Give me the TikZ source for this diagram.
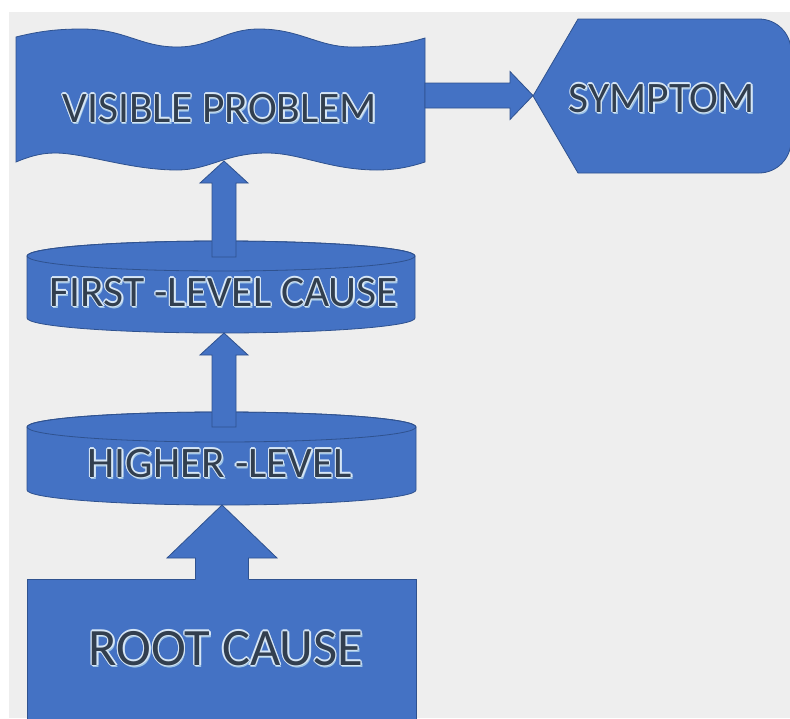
\documentclass[tikz,border=0pt]{standalone}
\usepackage{fontspec}
\setmainfont{Carlito}
\usetikzlibrary{calc}
\definecolor{bgc}{HTML}{EEEEEE}
\definecolor{fillc}{HTML}{4472C4}
\definecolor{edgec}{HTML}{2F528F}
\definecolor{textc}{HTML}{323F4F}
\definecolor{glowc}{HTML}{D6E6F6}
\definecolor{glowb}{HTML}{9DC3E6}
\newcommand\gcopy[4]{\rlap{\kern#1\raisebox{#2}{\color{#3}#4}}}
\newcommand\gtxt[1]{%
\gcopy{1.4pt}{-2.2pt}{glowb}{#1}\gcopy{0.6pt}{-2.4pt}{glowb}{#1}%
\gcopy{1.3pt}{0pt}{glowc}{#1}\gcopy{-1.3pt}{0pt}{glowc}{#1}%
\gcopy{0pt}{1.3pt}{glowc}{#1}\gcopy{0pt}{-1.3pt}{glowc}{#1}%
\gcopy{0.9pt}{0.9pt}{glowc}{#1}\gcopy{-0.9pt}{0.9pt}{glowc}{#1}%
\gcopy{0.9pt}{-0.9pt}{glowc}{#1}\gcopy{-0.9pt}{-0.9pt}{glowc}{#1}%
{\color{textc}#1}}
\newcommand\vupar[5]{%
\filldraw[blk] let \p1=(#1), \p2=(#2) in
 (\x1-#3,\y1) -- (\x1-#3,\y2-#5) -- (\x1-#4,\y2-#5) -- (\x2,\y2)
 -- (\x1+#4,\y2-#5) -- (\x1+#3,\y2-#5) -- (\x1+#3,\y1) -- cycle;}
\begin{document}
\begin{tikzpicture}[x=1pt,y=-1pt,
  blk/.style={fill=fillc,draw=edgec,line width=0.8pt,line join=miter},
  lbl/.style={inner sep=0pt,anchor=base,font=\fontsize{43.5}{50}\selectfont},
  bigl/.style={inner sep=0pt,anchor=base,font=\fontsize{52.5}{60}\selectfont}]
\useasboundingbox (0,0) rectangle (790,718);
\clip (0,0) rectangle (790,718);
\fill[white] (0,0) rectangle (790,718);
\fill[bgc] (9,12) rectangle (790,718);
% wave: visible problem
\filldraw[blk] (16,37) .. controls (40,31) and (58,29) .. (82,29)
  .. controls (125,29) and (140,47) .. (177,47)
  .. controls (212,47) and (225,29) .. (259,29)
  .. controls (300,29) and (318,47) .. (352,47)
  .. controls (385,47) and (405,44) .. (425,38)
  -- (425,162)
  .. controls (410,167) and (395,170) .. (377,170)
  .. controls (330,170) and (300,153) .. (267,153)
  .. controls (225,153) and (210,170) .. (177,170)
  .. controls (130,170) and (85,153) .. (55,153)
  .. controls (40,153) and (28,157) .. (16,162) -- cycle;
% symptom
\filldraw[blk] (533,96) -- (578,19) -- (759,19)
  arc[start angle=90,end angle=0,radius=32pt] -- (791,141)
  arc[start angle=0,end angle=-90,radius=32pt] -- (578,173) -- cycle;
% right arrow
\coordinate (rab) at (425,95.5);
\coordinate (rat) at (533,95.5);
\filldraw[blk] let \p1=(rab), \p2=(rat) in
  (\x1,\y1+12.5pt) -- (\x2-23pt,\y1+12.5pt) -- (\x2-23pt,\y1+24pt) -- (\x2,\y2)
  -- (\x2-23pt,\y1-24pt) -- (\x2-23pt,\y1-12.5pt) -- (\x1,\y1-12.5pt) -- cycle;
% cylinder 1
\filldraw[blk] (27,256) -- (27,318)
  arc[start angle=180,end angle=360,x radius=194pt,y radius=15pt]
  -- (415,256) arc[start angle=0,end angle=180,x radius=194pt,y radius=15pt] -- cycle;
\draw[edgec,line width=0.8pt] (221,256) ellipse[x radius=194pt,y radius=15pt];
% cylinder 2
\filldraw[blk] (27,427) -- (27,490)
  arc[start angle=180,end angle=360,x radius=194.5pt,y radius=15pt]
  -- (416,427) arc[start angle=0,end angle=180,x radius=194.5pt,y radius=15pt] -- cycle;
\draw[edgec,line width=0.8pt] (221.5,427) ellipse[x radius=194.5pt,y radius=15pt];
% root cause box
\filldraw[blk] (27,579) rectangle (416,725);
% up arrows
\coordinate (a1b) at (224,257);
\coordinate (a1t) at (224,161);
\coordinate (a2b) at (224,427);
\coordinate (a2t) at (224,333);
\coordinate (a3b) at (222,579);
\coordinate (a3t) at (222,505);
\vupar{a1b}{a1t}{12pt}{24pt}{22pt}
\vupar{a2b}{a2t}{12pt}{24pt}{22pt}
\fill[fillc] let \p1=(a3b), \p2=(a3t) in
 (\x1-26.5pt,\y1-1pt) -- (\x1-26.5pt,\y2-53pt) -- (\x1-55pt,\y2-53pt) -- (\x2,\y2)
 -- (\x1+55pt,\y2-53pt) -- (\x1+26.5pt,\y2-53pt) -- (\x1+26.5pt,\y1-1pt) -- cycle;
\draw[edgec,line width=0.8pt,line join=miter] let \p1=(a3b), \p2=(a3t) in
 (\x1-26.5pt,\y1) -- (\x1-26.5pt,\y2-53pt) -- (\x1-55pt,\y2-53pt) -- (\x2,\y2)
 -- (\x1+55pt,\y2-53pt) -- (\x1+26.5pt,\y2-53pt) -- (\x1+26.5pt,\y1);
% texts
\node[lbl] (vis) at (220,122) {\gtxt{VISIBLE PROBLEM}};
\node[lbl] (sym) at (662,112) {\gtxt{SYMPTOM}};
\node[lbl] (first) at (224,306) {\gtxt{FIRST -LEVEL CAUSE}};
\node[lbl] (higher) at (220,477) {\gtxt{HIGHER -LEVEL}};
\node[bigl] (root) at (226,665) {\gtxt{ROOT CAUSE}};
\end{tikzpicture}
\end{document}
